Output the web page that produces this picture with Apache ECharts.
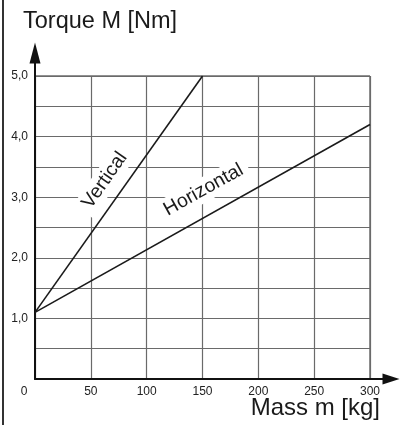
<!DOCTYPE html>
<html>
<head>
<meta charset="utf-8">
<script src="https://cdn.jsdelivr.net/npm/echarts@6/dist/echarts.min.js"></script>
<style>
  html, body { margin: 0; padding: 0; background: #fff; }
  #chart { position: absolute; left: 0; top: 0; width: 400px; height: 425px; }
  #frame { position: absolute; left: 2px; top: 0; width: 2px; height: 425px; background: #333; }
</style>
</head>
<body>
<div id="chart"></div>
<div id="frame"></div>
<script>
// Torque needed vs. carried mass, for vertical and horizontal mounting
const verticalMass = [0, 150];
const verticalTorque = [1.1, 5.0];
const horizontalMass = [0, 300];
const horizontalTorque = [1.1, 4.2];
const massTicks = [0, 50, 100, 150, 200, 250, 300];
const torqueLabels = ['1,0', '2,0', '3,0', '4,0', '5,0'];

const FONT = '"Liberation Sans", Arial, Helvetica, sans-serif';
const pairs = (xs, ys) => xs.map((x, i) => [x, ys[i]]);

const chart = echarts.init(document.getElementById('chart'), null, { renderer: 'canvas' });

// Rotated caption sitting beside a line, on a white patch that hides the grid
function lineLabel(text, coord, angle) {
  return {
    symbol: 'circle',
    symbolSize: 1,
    silent: true,
    itemStyle: { color: 'rgba(0,0,0,0)' },
    data: [{ coord: coord, value: text }],
    label: {
      show: true,
      position: 'inside',
      formatter: text,
      rotate: angle,
      fontFamily: FONT,
      fontSize: 19.5,
      color: '#1a1a1a',
      backgroundColor: '#fff',
      padding: [2, 6]
    }
  };
}

chart.setOption({
  animation: false,
  title: [
    { text: 'Torque M [Nm]', left: 18, top: 5,
      textStyle: { fontFamily: FONT, fontSize: 23.5, fontWeight: 'normal', color: '#1a1a1a' } },
    { text: 'Mass m [kg]', right: 15, bottom: 0,
      textStyle: { fontFamily: FONT, fontSize: 24, fontWeight: 'normal', color: '#1a1a1a' } }
  ],
  grid: [
    { left: 35, right: 30, top: 76, bottom: 46, show: true, borderColor: '#222', borderWidth: 1 },
    { left: 35, right: 9, top: 53, bottom: 46 }
  ],
  xAxis: [
    {
      type: 'value', gridIndex: 0,
      min: massTicks[0], max: massTicks[massTicks.length - 1], interval: 50,
      axisLine: { show: false },
      axisTick: { show: false },
      splitLine: { show: true, lineStyle: { color: '#6a6a6a', width: 1.2 } },
      axisLabel: {
        margin: 7, fontFamily: FONT, fontSize: 12, color: '#222',
        formatter: v => v === 0 ? '{z|0}' : String(v),
        rich: { z: { fontFamily: FONT, fontSize: 12, color: '#222', padding: [0, 22, 0, 0] } }
      }
    },
    {
      type: 'value', gridIndex: 1, min: 0, max: 1,
      axisLine: { show: true, symbol: ['none', 'triangle'], symbolSize: [11, 17],
        lineStyle: { color: '#111', width: 2 } },
      axisTick: { show: false }, axisLabel: { show: false }, splitLine: { show: false }
    }
  ],
  yAxis: [
    {
      type: 'value', gridIndex: 0, min: 0, max: 5, interval: 0.5,
      axisLine: { show: false },
      axisTick: { show: false },
      splitLine: { show: true, lineStyle: { color: '#6a6a6a', width: 1.2 } },
      axisLabel: {
        margin: 7, fontFamily: FONT, fontSize: 12, color: '#222',
        formatter: v => {
          const k = Math.round(v * 10) / 10;
          if (k > 0 && Number.isInteger(k)) return torqueLabels[k - 1];
          return '';
        }
      }
    },
    {
      type: 'value', gridIndex: 1, min: 0, max: 1,
      axisLine: { show: true, symbol: ['none', 'triangle'], symbolSize: [11, 21],
        lineStyle: { color: '#111', width: 2 } },
      axisTick: { show: false }, axisLabel: { show: false }, splitLine: { show: false }
    }
  ],
  series: [
    {
      name: 'Vertical', type: 'line', xAxisIndex: 0, yAxisIndex: 0,
      data: pairs(verticalMass, verticalTorque),
      symbol: 'none',
      lineStyle: { color: '#1a1a1a', width: 1.6 },
      markPoint: lineLabel('Vertical', [62.5, 3.28], 55),
      z: 3
    },
    {
      name: 'Horizontal', type: 'line', xAxisIndex: 0, yAxisIndex: 0,
      data: pairs(horizontalMass, horizontalTorque),
      symbol: 'none',
      lineStyle: { color: '#1a1a1a', width: 1.6 },
      markPoint: lineLabel('Horizontal', [151, 3.12], 29),
      z: 3
    }
  ]
});
</script>
</body>
</html>
